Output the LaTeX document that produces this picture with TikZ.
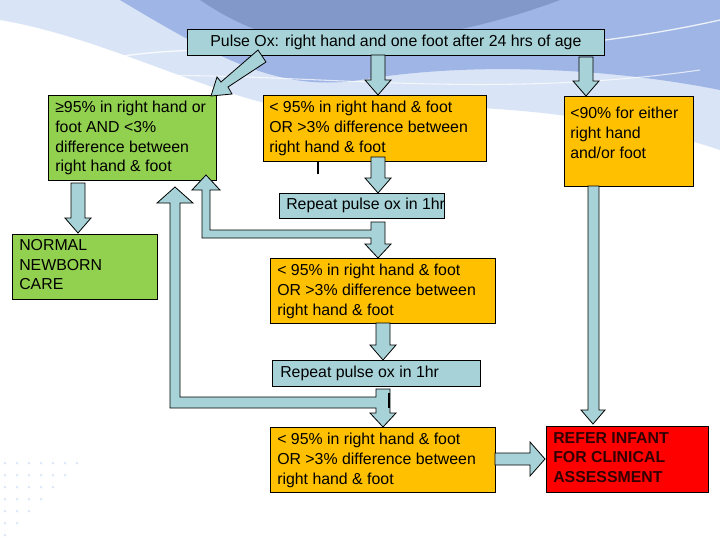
\documentclass[tikz,border=0pt]{standalone}
\usepackage{fontspec}
\setmainfont{Liberation Sans}
\begin{document}
\begin{tikzpicture}[x=0.75pt,y=-0.75pt,
  box/.style={draw=black,line width=0.6pt,anchor=north west,inner sep=0pt},
  txt/.style={anchor=north west,align=left,inner sep=0pt,font=\fontsize{11.9}{14.8}\selectfont},
  arr/.style={draw=black,fill=arrc,line width=0.6pt,line join=miter}]
\definecolor{arrc}{HTML}{A7D3D8}
\definecolor{gr}{HTML}{92D050}
\definecolor{orng}{HTML}{FFC000}
\definecolor{sw1}{HTML}{6F8FD8}
\definecolor{sw2}{HTML}{C9DBF3}
\useasboundingbox (0,0) rectangle (720,540);
\fill[white] (0,0) rectangle (720,540);
% background swoosh
\fill[sw2,opacity=0.7] (0,0) -- (720,0) -- (720,150) .. controls (600,110) and (450,100) .. (330,110) .. controls (250,118) and (120,40) .. (0,20) -- cycle;
\fill[sw1,opacity=0.55] (120,0) -- (720,0) -- (720,90) .. controls (620,70) and (480,60) .. (360,80) .. controls (280,92) and (220,60) .. (120,0) -- cycle;
\fill[sw1!70!black,opacity=0.35] (200,0) -- (560,0) .. controls (480,30) and (380,50) .. (300,40) .. controls (260,35) and (230,20) .. (200,0) -- cycle;
\draw[white,line width=1pt,opacity=0.8] (100,60) .. controls (250,30) and (450,80) .. (720,20);
\draw[white,line width=0.8pt,opacity=0.7] (0,90) .. controls (200,50) and (420,110) .. (700,70);
\foreach \i in {0,...,6}{\foreach \j in {0,...,\i}{\fill[sw2,opacity=0.6] (5+\j*12,535-\i*12) circle (1.5);}}
% boxes
\node[box,fill=arrc,minimum width=417*0.75pt,minimum height=26*0.75pt] (top) at (187,29) {};
\node[txt,anchor=center] at (top.center) {Pulse Ox: right hand and one foot after 24 hrs of age};
\node[box,fill=gr,minimum width=168*0.75pt,minimum height=85*0.75pt] (g1) at (48,95) {};
\node[txt] at (55,101) {≥95\% in right hand or\\foot AND <3\%\\difference between\\right hand \& foot};
\node[box,fill=orng,minimum width=223*0.75pt,minimum height=66*0.75pt] (o1) at (263,95) {};
\node[txt] at (269,101) {< 95\% in right hand \& foot\\OR >3\% difference between\\right hand \& foot};
\node[box,fill=orng,minimum width=129*0.75pt,minimum height=90*0.75pt] (o4) at (564,96) {};
\node[txt] at (570,107) {<90\% for either\\right hand\\and/or foot};
\node[box,fill=arrc,minimum width=165*0.75pt,minimum height=25*0.75pt] (r1) at (279,193) {};
\node[txt,anchor=west] at (286,205.5) {Repeat pulse ox in 1hr};
\node[box,fill=gr,minimum width=145*0.75pt,minimum height=65*0.75pt] (g2) at (12,234) {};
\node[txt] at (19,239) {NORMAL\\NEWBORN\\CARE};
\node[box,fill=orng,minimum width=225*0.75pt,minimum height=65*0.75pt] (o2) at (270,258) {};
\node[txt] at (277,264) {< 95\% in right hand \& foot\\OR >3\% difference between\\right hand \& foot};
\node[box,fill=arrc,minimum width=208*0.75pt,minimum height=26*0.75pt] (r2) at (272,360) {};
\node[txt,anchor=west] at (280,373) {Repeat pulse ox in 1hr};
\node[box,fill=orng,minimum width=225*0.75pt,minimum height=65*0.75pt] (o3) at (270,427) {};
\node[txt] at (277,433) {< 95\% in right hand \& foot\\OR >3\% difference between\\right hand \& foot};
\node[box,fill=red,minimum width=162*0.75pt,minimum height=66*0.75pt] (red) at (546,426) {};
\node[txt,font=\bfseries\fontsize{11.9}{14.8}\selectfont,text=black!80!red] at (553,432) {REFER INFANT\\FOR CLINICAL\\ASSESSMENT};
% block arrows
\newcommand{\varr}[3]{\draw[arr] (#1-7,#2) -- (#1+7,#2) -- (#1+7,#3-15) -- (#1+13,#3-15) -- (#1,#3) -- (#1-13,#3-15) -- (#1-7,#3-15) -- cycle;}
\varr{378}{55}{95}
\varr{586}{57}{96}
\varr{378}{157}{193}
\varr{78}{183}{233}
\varr{383}{323}{360}
\draw[arr] (588,186) -- (599,186) -- (599,410) -- (605,410) -- (593,424) -- (581,410) -- (588,410) -- cycle;
% diagonal
\draw[arr] (258,50) -- (266,62) -- (228,87) -- (232,94) -- (211,96) -- (217,77) -- (221,82) -- cycle;
% repeat1 branch
\draw[arr] (371,222) -- (385,222) -- (385,244) -- (391,244) -- (378,258) -- (365,244) -- (371,244) -- (371,238) -- (202,238) -- (202,190) -- (192,190) -- (206,175) -- (220,190) -- (210,190) -- (210,230) -- (371,230) -- cycle;
% repeat2 branch
\draw[arr] (376,389) -- (390,389) -- (390,413) -- (396,413) -- (383,427) -- (370,413) -- (376,413) -- (376,408) -- (170,408) -- (170,203) -- (157,203) -- (175,187) -- (193,203) -- (180,203) -- (180,397) -- (376,397) -- cycle;
% horizontal to red
\draw[arr] (495,453) -- (530,453) -- (530,442) -- (545,459) -- (530,476) -- (530,465) -- (495,465) -- cycle;
\draw[line width=0.8pt] (318,162) -- (318,174);
\draw[line width=0.8pt] (389,393) -- (389,408);
\end{tikzpicture}
\end{document}
